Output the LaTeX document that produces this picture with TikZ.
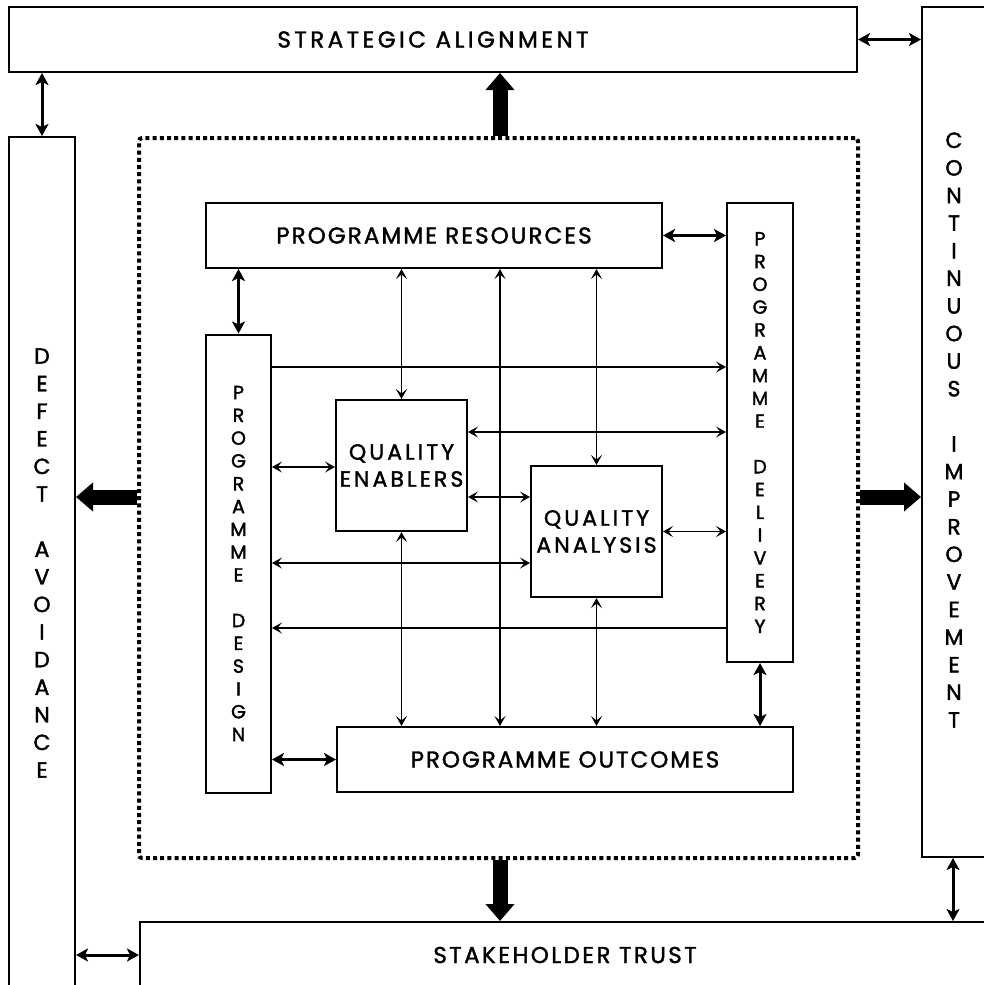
\documentclass[tikz,border=0pt]{standalone}
\usepackage{fontspec}
\setmainfont{Poppins}
\newfontfamily\ffsa{Poppins}[LetterSpace=15, FakeBold=1.6]
\newfontfamily\ffpr{Poppins}[LetterSpace=9, FakeBold=1.6]
\newfontfamily\ffpo{Poppins}[LetterSpace=8.5, FakeBold=1.6]
\newfontfamily\ffst{Poppins}[LetterSpace=10.5, FakeBold=1.6]
\newfontfamily\ffq{Poppins}[LetterSpace=14, FakeBold=1.6]
\newfontfamily\ffv{Poppins}[FakeBold=1.8]
\usetikzlibrary{arrows.meta}
\begin{document}
\begin{tikzpicture}[x=1pt,y=-1pt,
  box/.style={draw, line width=2pt, inner sep=0pt, fill=white},
  satext/.style={font=\ffsa\fontsize{23}{26}\selectfont},
  prtext/.style={font=\ffpr\fontsize{23}{26}\selectfont},
  potext/.style={font=\ffpo\fontsize{23}{26}\selectfont},
  sttext/.style={font=\ffst\fontsize{23}{26}\selectfont},
  qtext/.style={align=center, font=\ffq\fontsize{22}{27}\selectfont},
  vouter/.style={align=center, font=\ffv\fontsize{22}{27.6}\selectfont},
  vinner/.style={align=center, font=\ffv\fontsize{19}{22.8}\selectfont},
  thickarr/.style={line width=3pt, {Stealth[length=12pt,width=13pt,inset=3pt]}-{Stealth[length=12pt,width=13pt,inset=3pt]}},
  thinarr/.style={line width=1.8pt, {Stealth[length=10pt,width=11pt,inset=4.5pt]}-{Stealth[length=10pt,width=11pt,inset=4.5pt]}},
  thinone/.style={line width=1.8pt, -{Stealth[length=10pt,width=11pt,inset=4.5pt]}},
  blockarr/.style={line width=15pt, -{Triangle[length=17pt,width=28pt]}},
  dotframe/.style={draw, line width=4pt, dash pattern=on 4pt off 3.2pt, rounded corners=3pt, inner sep=0pt}
]
\useasboundingbox (0,0) rectangle (984,985);
\clip (0,0) rectangle (984,985);
\fill[white] (0,0) rectangle (984,985);

% outer boxes
\node[box, minimum width=848pt, minimum height=65pt, satext] (SA) at (433,39.5) {STRATEGIC ALIGNMENT};
\node[box, minimum width=140pt, minimum height=850pt] (CI) at (992,432) {};
\node[vouter] (CItext) at (954,430) {C\\O\\N\\T\\I\\N\\U\\O\\U\\S\\~\\I\\M\\P\\R\\O\\V\\E\\M\\E\\N\\T};
\node[box, minimum width=66pt, minimum height=920pt] (DA) at (42,597) {};
\node[vouter] (DAtext) at (42,563) {D\\E\\F\\E\\C\\T\\~\\A\\V\\O\\I\\D\\A\\N\\C\\E};
\node[box, minimum width=920pt, minimum height=140pt] (ST) at (600,992) {};
\node[sttext] (STtext) at (565,955) {STAKEHOLDER TRUST};

% dotted frame
\node[dotframe, minimum width=719pt, minimum height=720pt] (frame) at (498.5,498) {};

% inner boxes
\node[box, minimum width=456pt, minimum height=65pt, prtext] (PR) at (434,235.5) {PROGRAMME RESOURCES};
\node[box, minimum width=66pt, minimum height=459pt, vinner] (PDel) at (760,432.5) {P\\R\\O\\G\\R\\A\\M\\M\\E\\~\\D\\E\\L\\I\\V\\E\\R\\Y};
\node[box, minimum width=65pt, minimum height=458pt, vinner] (PD) at (238.5,563.5) {P\\R\\O\\G\\R\\A\\M\\M\\E\\~\\D\\E\\S\\I\\G\\N};
\node[box, minimum width=456pt, minimum height=65pt, potext] (PO) at (565,759.5) {PROGRAMME OUTCOMES};
\node[box, minimum width=131pt, minimum height=131pt, qtext] (QE) at (401.5,465.5) {QUALITY\\ENABLERS};
\node[box, minimum width=131pt, minimum height=131pt, qtext] (QA) at (596.5,531.5) {QUALITY\\ANALYSIS};

% outer connectors
\draw[thickarr] (SA.south -| DA.north) -- (DA.north);
\draw[thickarr] (SA.east) -- (CI.west |- SA.east);
\draw[thickarr] (CI.south -| 953,0) -- (ST.north -| 953,0);
\draw[thickarr] (DA.east |- 0,955) -- (ST.west |- 0,955);

% block arrows
\draw[blockarr] (frame.north -| 500,0) -- (SA.south -| 500,0);
\draw[blockarr] (frame.west |- 0,497) -- (DA.east |- 0,497);
\draw[blockarr] (frame.east |- 0,497) -- (CI.west |- 0,497);
\draw[blockarr] (frame.south -| 500,0) -- (ST.north -| 500,0);

% thick inner connectors
\draw[thickarr] (PR.south -| PD.north) -- (PD.north);
\draw[thickarr] (PR.east) -- (PDel.west |- PR.east);
\draw[thickarr] (PDel.south) -- (PO.north -| PDel.south);
\draw[thickarr] (PO.west) -- (PD.east |- PO.west);

% thin vertical connectors
\draw[thinarr] (PR.south -| QE.north) -- (QE.north);
\draw[thinarr] (PR.south -| 500,0) -- (PO.north -| 500,0);
\draw[thinarr] (PR.south -| QA.north) -- (QA.north);
\draw[thinarr] (QE.south) -- (PO.north -| QE.south);
\draw[thinarr] (QA.south) -- (PO.north -| QA.south);

% thin horizontal connectors
\draw[thinone] (PD.east |- 0,367) -- (PDel.west |- 0,367);
\draw[thinarr] (QE.east |- 0,432) -- (PDel.west |- 0,432);
\draw[thinarr] (PD.east |- 0,467) -- (QE.west |- 0,467);
\draw[thinarr] (QE.east |- 0,497) -- (QA.west |- 0,497);
\draw[thinarr] (QA.east) -- (PDel.west |- QA.east);
\draw[thinarr] (PD.east |- 0,563) -- (QA.west |- 0,563);
\draw[thinone] (PDel.west |- 0,628) -- (PD.east |- 0,628);
\end{tikzpicture}
\end{document}
